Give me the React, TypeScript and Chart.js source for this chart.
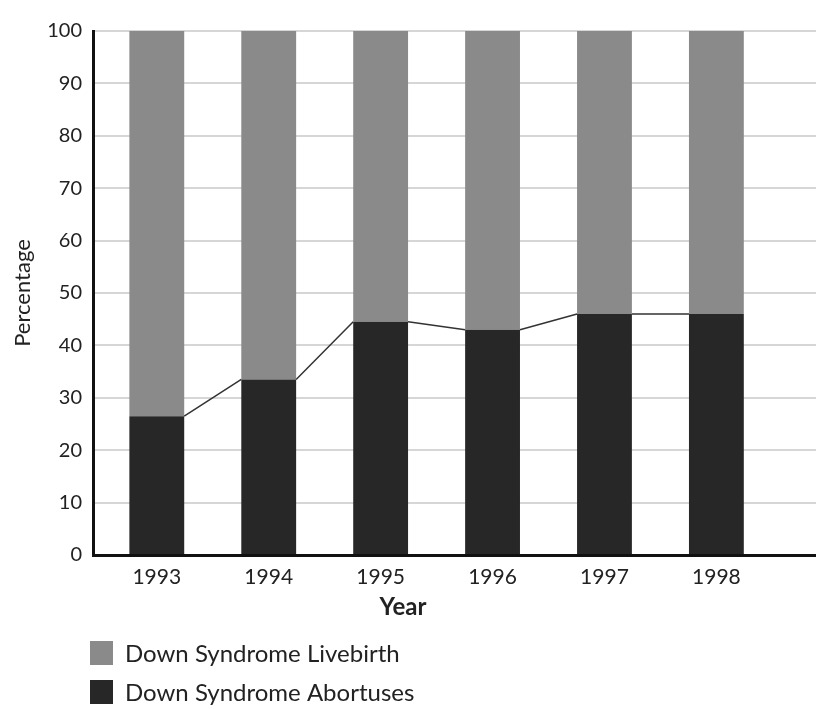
import { useEffect, useRef } from 'react';
import { Chart, registerables } from 'chart.js';

Chart.register(...registerables);

const years = [1993, 1994, 1995, 1996, 1997, 1998];
const abortuses = [26.5, 33.5, 44.5, 43, 46, 46];
const livebirth = [73.5, 66.5, 55.5, 57, 54, 54];
const yMin = 0;
const yMax = 100;
const yStep = 10;
const xMin = 1992.43;
const xMax = 1998.89;
const labelLivebirth = 'Down Syndrome Livebirth';
const labelAbortuses = 'Down Syndrome Abortuses';
const xTitle = 'Year';
const yTitle = 'Percentage';

const FONT = 'Lato, "Open Sans", "DejaVu Sans", sans-serif';
const TEXT = '#222222';
const LIGHT = '#8a8a8a';
const DARK = '#272727';

const seriesLinesPlugin = {
  id: 'seriesLines',
  afterDatasetsDraw(chart: any) {
    const meta = chart.getDatasetMeta(0);
    const ctx = chart.ctx;
    ctx.save();
    ctx.strokeStyle = '#333333';
    ctx.lineWidth = 1.5;
    ctx.beginPath();
    for (let i = 0; i < meta.data.length - 1; i++) {
      const a: any = meta.data[i];
      const b: any = meta.data[i + 1];
      ctx.moveTo(a.x + a.width / 2, a.y);
      ctx.lineTo(b.x - b.width / 2, b.y);
    }
    ctx.stroke();
    ctx.restore();
  },
};

const bottomTextPlugin = {
  id: 'bottomText',
  afterDraw(chart: any) {
    const ctx = chart.ctx;
    const area = chart.chartArea;
    ctx.save();
    // x-axis title
    ctx.fillStyle = TEXT;
    ctx.font = `bold 24px ${FONT}`;
    ctx.textAlign = 'center';
    ctx.textBaseline = 'middle';
    ctx.fillText(xTitle, 403, area.bottom + 52);
    // legend (top: livebirth, bottom: abortuses)
    const order = [1, 0];
    ctx.font = `24px ${FONT}`;
    ctx.textAlign = 'left';
    order.forEach((dsIndex, row) => {
      const ds = chart.data.datasets[dsIndex];
      const cy = area.bottom + 98 + row * 39;
      ctx.fillStyle = ds.backgroundColor;
      ctx.fillRect(area.left - 3, cy - 12, 23, 24);
      ctx.fillStyle = TEXT;
      ctx.fillText(ds.label, area.left + 32, cy + 1);
    });
    ctx.restore();
  },
};

export default function App() {
  const ref = useRef<HTMLCanvasElement>(null);

  useEffect(() => {
    if (!ref.current) return;
    const chart = new Chart(ref.current, {
      type: 'bar',
      data: {
        datasets: [
          {
            label: labelAbortuses,
            data: years.map((y, i) => ({ x: y, y: abortuses[i] })),
            backgroundColor: DARK,
            borderWidth: 0,
            barPercentage: 0.49,
            categoryPercentage: 1,
          },
          {
            label: labelLivebirth,
            data: years.map((y, i) => ({ x: y, y: livebirth[i] })),
            backgroundColor: LIGHT,
            borderWidth: 0,
            barPercentage: 0.49,
            categoryPercentage: 1,
          },
        ],
      },
      options: {
        responsive: false,
        animation: false,
        layout: { padding: { top: 31, right: 0, bottom: 0, left: 0 } },
        plugins: {
          legend: { display: false },
          tooltip: { enabled: false },
        },
        scales: {
          x: {
            type: 'linear',
            stacked: true,
            offset: false,
            min: xMin,
            max: xMax,
            afterBuildTicks: (scale: any) => {
              scale.ticks = years.map((v) => ({ value: v }));
            },
            afterFit: (scale: any) => {
              scale.height = 154;
            },
            grid: { display: false, drawTicks: false, offset: false },
            border: { display: true, color: '#111111', width: 3 },
            ticks: {
              padding: 10,
              color: TEXT,
              font: { family: FONT, size: 21 },
              callback: (v: any) => String(v),
            },
          },
          y: {
            stacked: true,
            min: yMin,
            max: yMax,
            afterFit: (scale: any) => {
              scale.width = 93;
            },
            grid: { color: '#d6d6d6', lineWidth: 2, drawTicks: false },
            border: { display: true, color: '#111111', width: 3 },
            ticks: {
              stepSize: yStep,
              padding: 11,
              color: TEXT,
              font: { family: FONT, size: 20 },
            },
            title: {
              display: true,
              text: yTitle,
              color: TEXT,
              font: { family: FONT, size: 22 },
              padding: { top: 10, bottom: 0 },
            },
          },
        },
      },
      plugins: [seriesLinesPlugin, bottomTextPlugin],
    });
    return () => chart.destroy();
  }, []);

  return (
    <div style={{ position: 'absolute', left: 0, top: 0, width: 816, height: 709, background: '#ffffff' }}>
      <canvas ref={ref} width={816} height={709} />
    </div>
  );
}
